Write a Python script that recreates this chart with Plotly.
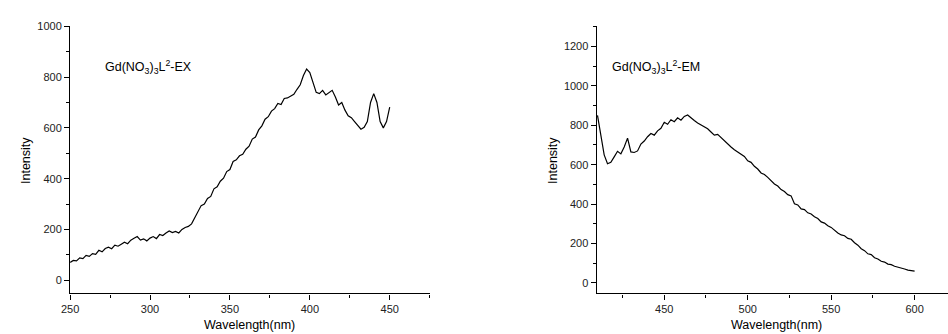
import plotly.graph_objects as go

# ---- Data ----
ex_wavelength = list(range(250, 452, 2))
ex_intensity = [
    70, 78, 76, 88, 85, 98, 94, 105, 102, 118,
    112, 125, 130, 124, 138, 134, 142, 150, 144, 158,
    165, 172, 158, 163, 155, 166, 172, 164, 180, 176,
    186, 194, 188, 192, 186, 200, 208, 212, 222, 248,
    268, 294, 300, 322, 330, 360, 368, 390, 402, 428,
    436, 468, 474, 490, 496, 516, 528, 556, 564, 592,
    608, 634, 644, 666, 676, 696, 692, 716, 718, 724,
    732, 752, 770, 806, 832, 818, 780, 740, 735, 748,
    730, 738, 748, 722, 690, 700, 670, 648, 640, 625,
    610, 595, 602, 625, 700, 735, 700, 625, 600, 625,
    682,
]

em_wavelength = list(range(410, 602, 2))
em_intensity = [
    850, 760, 650, 605, 612, 640, 668, 655, 690, 735,
    665, 662, 670, 705, 720, 742, 758, 750, 772, 785,
    815, 805, 828, 818, 838, 826, 845, 852, 836, 824,
    812, 802, 796, 782, 766, 750, 754, 738, 722, 702,
    690, 676, 664, 650, 642, 620, 612, 592, 578, 558,
    550, 536, 520, 502, 492, 474, 464, 448, 442, 402,
    396, 376, 372, 356, 350, 336, 327, 310, 304, 290,
    282, 266, 254, 244, 240, 226, 222, 204, 192, 174,
    164, 148, 144, 128, 122, 110, 106, 96, 93, 85,
    81, 74, 71, 65, 64, 60,
]

ex_label = "Gd(NO<sub>3</sub>)<sub>3</sub>L<sup>2</sup>-EX"
em_label = "Gd(NO<sub>3</sub>)<sub>3</sub>L<sup>2</sup>-EM"
x_title = "Wavelength(nm)"
y_title = "Intensity"

W, H = 948, 334
FONT = "Liberation Sans, Arial, sans-serif"

def px(x):
    return x / W

def py(y):
    return (H - y) / H

fig = go.Figure()
fig.add_trace(go.Scatter(x=ex_wavelength, y=ex_intensity, mode="lines",
                         line=dict(color="black", width=1.2), xaxis="x", yaxis="y",
                         showlegend=False, hoverinfo="skip"))
fig.add_trace(go.Scatter(x=em_wavelength, y=em_intensity, mode="lines",
                         line=dict(color="black", width=1.2), xaxis="x2", yaxis="y2",
                         showlegend=False, hoverinfo="skip"))

common_x = dict(showgrid=False, zeroline=False, showline=True, linecolor="black",
                linewidth=1.2, ticks="outside", ticklen=5, tickwidth=1, tickcolor="black",
                dtick=50, tickfont=dict(family=FONT, size=11, color="#222"),
                minor=dict(ticks="outside", ticklen=3, dtick=25, tickcolor="black", showgrid=False))
common_y = dict(showgrid=False, zeroline=False, showline=True, linecolor="black",
                linewidth=1.2, ticks="outside", ticklen=5, tickwidth=1, tickcolor="black",
                dtick=200, tickfont=dict(family=FONT, size=11, color="#222"),
                minor=dict(ticks="outside", ticklen=3, dtick=100, tickcolor="black", showgrid=False))

yb, yt = py(292.7), py(20.7)
fig.update_layout(
    width=W, height=H, margin=dict(l=0, r=0, t=0, b=0),
    paper_bgcolor="white", plot_bgcolor="white",
    xaxis=dict(domain=[px(61.7), px(424.7)], range=[250, 475], tick0=250,
               anchor="y", **common_x),
    yaxis=dict(domain=[yb, yt], range=[-52, 1000], tick0=0, anchor="x", **common_y),
    xaxis2=dict(domain=[px(593.3), 1.0], range=[409.5, 620], tick0=450,
                anchor="y2", **common_x),
    yaxis2=dict(domain=[yb, yt], range=[-53, 1302], tick0=0, anchor="x2", **common_y),
)

ann_font = dict(family=FONT, size=12.5, color="black")
annotations = [
    dict(text=ex_label, x=px(95), y=py(62), xanchor="left", yanchor="middle"),
    dict(text=em_label, x=px(607), y=py(62), xanchor="left", yanchor="middle"),
    dict(text=x_title, x=px(243.3), y=py(325), xanchor="center", yanchor="middle"),
    dict(text=x_title, x=px(774.5), y=py(325), xanchor="center", yanchor="middle"),
    dict(text=y_title, x=px(17), y=py(157), xanchor="center", yanchor="middle", textangle=-90),
    dict(text=y_title, x=px(549), y=py(157), xanchor="center", yanchor="middle", textangle=-90),
]
for a in annotations:
    fig.add_annotation(xref="paper", yref="paper", showarrow=False, font=ann_font, **a)

fig.write_html("out.html", config={"displayModeBar": False},
               post_script="document.body.style.margin='0';document.body.style.overflow='hidden';")
